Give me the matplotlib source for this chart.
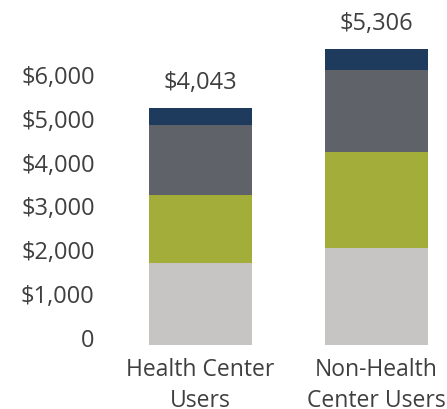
import matplotlib
matplotlib.use("Agg")
import matplotlib.pyplot as plt
import matplotlib.transforms as mtransforms

# data (bar heights as drawn)
groups = ["Health Center\nUsers", "Non-Health\nCenter Users"]
totals = ["$4,043", "$5,306"]
seg1 = [1865, 2208]   # light gray
seg2 = [1553, 2192]   # olive green
seg3 = [1598, 1872]   # dark gray
seg4 = [388, 479]     # navy
ytick_vals = [0, 1000, 2000, 3000, 4000, 5000, 6000]
ytick_labels = ["0", "$1,000", "$2,000", "$3,000", "$4,000", "$5,000", "$6,000"]

colors = ["#c6c5c4", "#a3ad3a", "#5f6268", "#1e3a5c"]
text_color = "#3f3f3f"

plt.rcParams['font.family'] = ['Open Sans', 'DejaVu Sans']

fig = plt.figure(figsize=(4.47, 4.10), dpi=100)
ax = fig.add_axes([0.246, 0.1568, 0.754, 0.843])

x = [0, 1]
width = 0.585
bottom = [0, 0]
for seg, c in zip([seg1, seg2, seg3, seg4], colors):
    ax.bar(x, seg, width, bottom=bottom, color=c, linewidth=0)
    bottom = [b + s for b, s in zip(bottom, seg)]

# total labels above bars
for xi, b, t in zip(x, bottom, totals):
    ax.text(xi, b + 600, t, ha="center", va="center", fontsize=17, color=text_color)

ax.set_xlim(-0.514, 1.40)
ax.set_ylim(0, 7893)

ax.set_yticks(ytick_vals)
ax.set_yticklabels(ytick_labels, fontsize=17, color=text_color)
ax.set_xticks(x)
ax.set_xticklabels(groups, fontsize=16.5, color=text_color, linespacing=1.4)
ax.tick_params(axis="y", length=0, pad=11)
ax.tick_params(axis="x", length=0, pad=9)

# y labels sit a bit above their tick values in the original
offset = mtransforms.ScaledTranslation(0, 8 / 100, fig.dpi_scale_trans)
for lbl in ax.get_yticklabels():
    lbl.set_transform(lbl.get_transform() + offset)

for s in ax.spines.values():
    s.set_visible(False)

fig.savefig("out.png", dpi=100)
